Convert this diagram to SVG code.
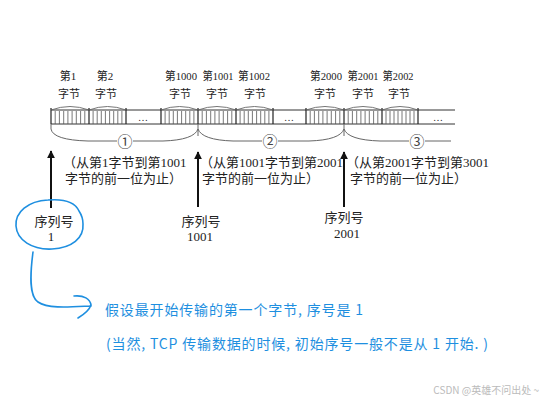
<svg xmlns="http://www.w3.org/2000/svg" width="546" height="402" viewBox="0 0 546 402">
<defs>
<style>
.lbl{font-family:"Liberation Serif","Noto Sans CJK SC",serif;fill:#222;}
.top{font-size:11px;text-anchor:middle;}
.mid{font-size:13px;}
.seq{font-size:13px;text-anchor:middle;}
.cn{font-family:"Noto Sans CJK SC","Noto Sans",sans-serif;font-size:15px;fill:#444;text-anchor:middle;}
.strip{stroke:#333;stroke-width:1;fill:none;}
.bit{stroke:#555;stroke-width:0.8;}
.bound{stroke:#222;stroke-width:1.2;}
.arc{stroke:#666;stroke-width:0.9;fill:none;}
.brace{stroke:#666;stroke-width:1;fill:none;}
.arrow{stroke:#111;stroke-width:2;}
.blue{stroke:#1e8fe0;stroke-width:1.6;fill:none;stroke-linecap:round;}
.btxt{font-family:"Noto Sans CJK SC","Noto Sans",sans-serif;font-size:14px;fill:#1e8fe0;}
</style>
<marker id="ah" viewBox="0 0 10 10" refX="9" refY="5" markerWidth="4" markerHeight="4" orient="auto">
<path d="M0,0 L10,5 L0,10 z" fill="#111"/>
</marker>
</defs>
<rect width="546" height="402" fill="#fff"/>

<g id="strip">
<line class="strip" x1="51" y1="110" x2="455" y2="110"/>
<line class="strip" x1="51" y1="124" x2="455" y2="124"/>
<g class="bit">
<path d="M55.2,111V124M59.4,111V124M63.7,111V124M67.9,111V124M72.1,111V124M76.3,111V124M80.6,111V124M84.8,111V124"/>
<path d="M93.1,111V124M97.2,111V124M101.3,111V124M105.4,111V124M109.6,111V124M113.7,111V124M117.8,111V124M121.9,111V124"/>
<path d="M165.1,111V124M169.2,111V124M173.3,111V124M177.4,111V124M181.6,111V124M185.7,111V124M189.8,111V124M193.9,111V124"/>
<path d="M202.2,111V124M206.4,111V124M210.7,111V124M214.9,111V124M219.1,111V124M223.3,111V124M227.6,111V124M231.8,111V124"/>
<path d="M240.1,111V124M244.2,111V124M248.3,111V124M252.4,111V124M256.6,111V124M260.7,111V124M264.8,111V124M268.9,111V124"/>
<path d="M310.2,111V124M314.4,111V124M318.7,111V124M322.9,111V124M327.1,111V124M331.3,111V124M335.6,111V124M339.8,111V124"/>
<path d="M348.2,111V124M352.4,111V124M356.7,111V124M360.9,111V124M365.1,111V124M369.3,111V124M373.6,111V124M377.8,111V124"/>
<path d="M386.0,111V124M390.0,111V124M394.0,111V124M398.0,111V124M402.0,111V124M406.0,111V124M410.0,111V124M414.0,111V124"/>
</g>
<path class="bound" d="M51,108V124M89,108V124M126,108V124M161,108V124M198,108V124M236,108V124M273,108V124M306,108V124M344,108V124M382,108V124M418,108V124"/>
<path class="arc" d="M51,110Q70,103 89,110M89,110Q107.5,103 126,110M161,110Q179.5,103 198,110M198,110Q217,103 236,110M236,110Q254.5,103 273,110M306,110Q325,103 344,110M344,110Q363,103 382,110M382,110Q400,103 418,110"/>
<text class="lbl" x="143" y="121" font-size="10" text-anchor="middle">…</text>
<text class="lbl" x="289" y="121" font-size="10" text-anchor="middle">…</text>
<text class="lbl" x="438" y="121" font-size="10" text-anchor="middle">…</text>
</g>

<g id="byte-labels" class="lbl top">
<text x="68" y="80">第1</text><text x="69" y="98">字节</text>
<text x="105" y="80">第2</text><text x="106" y="98">字节</text>
<text x="181" y="80" textLength="32" lengthAdjust="spacingAndGlyphs">第1000</text><text x="180" y="98">字节</text>
<text x="218" y="80" textLength="31" lengthAdjust="spacingAndGlyphs">第1001</text><text x="217" y="98">字节</text>
<text x="254" y="80" textLength="32" lengthAdjust="spacingAndGlyphs">第1002</text><text x="255" y="98">字节</text>
<text x="326" y="80" textLength="32" lengthAdjust="spacingAndGlyphs">第2000</text><text x="325" y="98">字节</text>
<text x="363" y="80" textLength="31" lengthAdjust="spacingAndGlyphs">第2001</text><text x="363" y="98">字节</text>
<text x="398" y="80" textLength="31" lengthAdjust="spacingAndGlyphs">第2002</text><text x="399" y="98">字节</text>
</g>

<g id="brace-1">
<path class="brace" d="M51,124V129Q53,140 88,141H117M133,141H163Q194,140 198,129"/>
<text class="cn" x="125" y="146.5">①</text>
</g>
<g id="brace-2">
<path class="brace" d="M198,124V136M198,129Q202,140 233,141H262M278,141H309Q340,140 344,129"/>
<text class="cn" x="270" y="146.5">②</text>
</g>
<g id="brace-3">
<path class="brace" d="M344,124V136M344,129Q348,140 380,141H409M425,141H451"/>
<text class="cn" x="417" y="146.5">③</text>
</g>

<g id="range-1" class="lbl mid">
<text x="63" y="167">（从第1字节到第1001</text>
<text x="65" y="183">字节的前一位为止）</text>
</g>
<g id="range-2" class="lbl mid">
<text x="200" y="167">（从第1001字节到第2001</text>
<text x="202" y="183">字节的前一位为止）</text>
</g>
<g id="range-3" class="lbl mid">
<text x="346" y="167">（从第2001字节到第3001</text>
<text x="350" y="183">字节的前一位为止）</text>
</g>

<g id="connectors">
<line class="arrow" x1="51" y1="208" x2="51" y2="151" marker-end="url(#ah)"/>
<line class="arrow" x1="198" y1="207" x2="198" y2="152" marker-end="url(#ah)"/>
<line class="arrow" x1="344" y1="207" x2="344" y2="152" marker-end="url(#ah)"/>
<path class="blue" d="M33,252C30,275 29,296 38,302C48,309 70,307 91,306"/>
<path class="blue" d="M74,296C84,295 90,299 91,305C89,311 83,315 78,318"/>
</g>

<g id="seq-1" class="lbl seq">
<path class="blue" d="M79,211C74,200 60,199 48,200C28,201 15,212 16,226C17,240 32,250 52,249C72,248 84,238 83,224C83,218 81,214 79,211"/>
<text x="54" y="226">序列号</text>
<text x="51" y="241">1</text>
</g>
<g id="seq-1001" class="lbl seq">
<text x="201" y="226">序列号</text>
<text x="200" y="241">1001</text>
</g>
<g id="seq-2001" class="lbl seq">
<text x="344" y="222">序列号</text>
<text x="347" y="238">2001</text>
</g>

<g id="note">
<text class="btxt" x="105" y="315" textLength="258" lengthAdjust="spacing">假设最开始传输的第一个字节, 序号是 1</text>
<text class="btxt" x="106" y="349" textLength="382" lengthAdjust="spacing">(当然, TCP 传输数据的时候, 初始序号一般不是从 1 开始. )</text>
</g>

<text x="539" y="394" font-family="Noto Sans CJK SC,Noto Sans,sans-serif" font-size="10" fill="#bbb" text-anchor="end">CSDN @英雄不问出处 ~</text>
</svg>
